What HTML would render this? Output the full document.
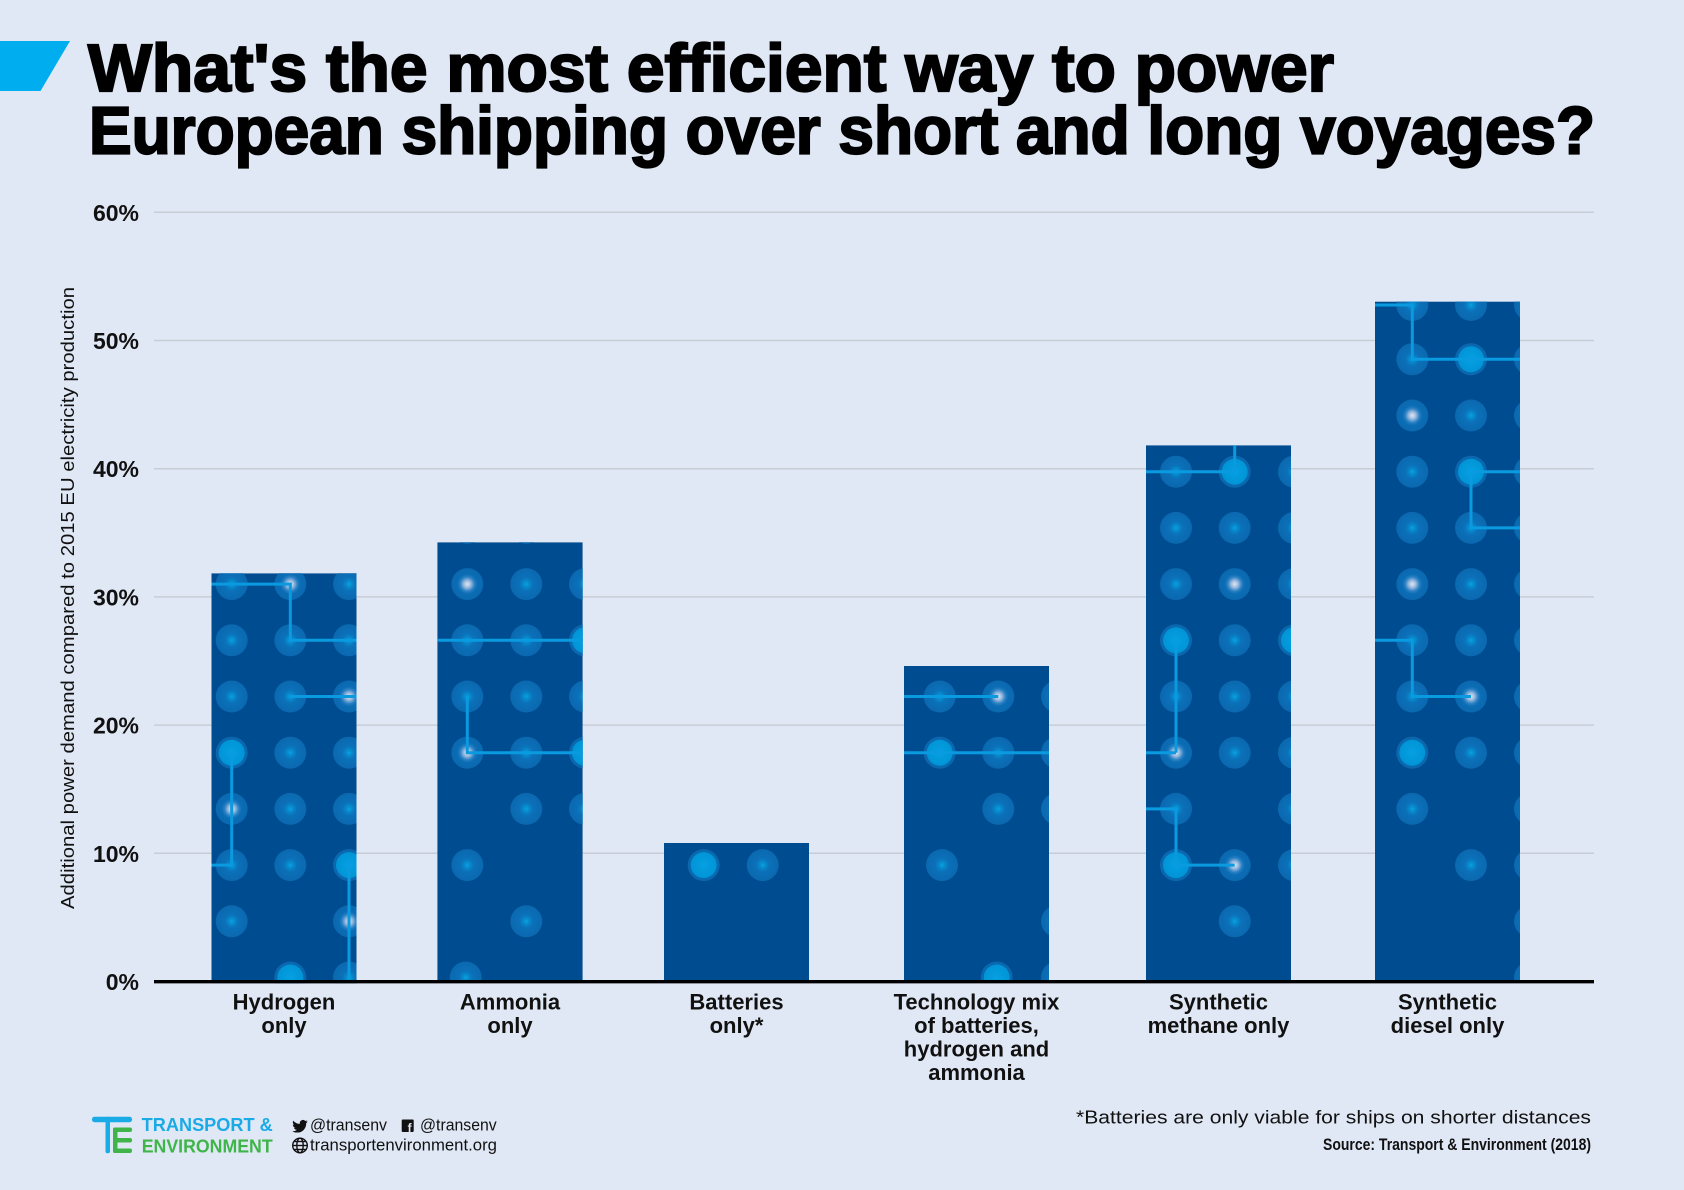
<!DOCTYPE html>
<html><head><meta charset="utf-8"><style>
html,body{margin:0;padding:0;background:#e1e8f5;}
svg{display:block;}
text{font-family:"Liberation Sans",Arial,sans-serif;}
</style></head><body>
<svg width="1684" height="1190" viewBox="0 0 1684 1190" xmlns="http://www.w3.org/2000/svg">
<defs>
<radialGradient id="gn"><stop offset="0" stop-color="#0aa2e2"/><stop offset="0.18" stop-color="#078acd"/><stop offset="0.42" stop-color="#0b71b9"/><stop offset="1" stop-color="#0b68af"/></radialGradient>
<radialGradient id="gh"><stop offset="0" stop-color="#dfe6f2"/><stop offset="0.22" stop-color="#9dbbdf"/><stop offset="0.45" stop-color="#2a80c3"/><stop offset="0.62" stop-color="#0b6db5"/><stop offset="1" stop-color="#0b68af"/></radialGradient>
<radialGradient id="gb"><stop offset="0" stop-color="#06a0e2"/><stop offset="1" stop-color="#0094d6"/></radialGradient>
<g id="dn"><circle r="16" fill="url(#gn)"/></g>
<g id="dh"><circle r="16" fill="url(#gh)"/></g>
<g id="db"><circle r="16" fill="#0b68af"/><circle r="13" fill="url(#gb)"/></g>
<clipPath id="c1"><rect x="211.5" y="573.3" width="145" height="410"/></clipPath>
<clipPath id="c2"><rect x="437.3" y="542.3" width="145.4" height="440"/></clipPath>
<clipPath id="c3"><rect x="664" y="843" width="145" height="140"/></clipPath>
<clipPath id="c4"><rect x="904" y="666" width="145" height="316"/></clipPath>
<clipPath id="c5"><rect x="1146" y="445.3" width="145" height="537"/></clipPath>
<clipPath id="c6"><rect x="1375" y="301.6" width="145" height="681"/></clipPath>
</defs>

<rect x="0" y="0" width="1684" height="1190" fill="#e1e8f5"/>

<!-- title -->
<polygon points="0,41 70,41 40.5,91 0,91" fill="#00aeef"/>
<text x="88" y="91" font-size="67" font-weight="bold" fill="#000" stroke="#000" stroke-width="2.2" textLength="1246" lengthAdjust="spacingAndGlyphs">What's the most efficient way to power</text>
<text x="89" y="153.5" font-size="67" font-weight="bold" fill="#000" stroke="#000" stroke-width="2.2" textLength="1506" lengthAdjust="spacingAndGlyphs">European shipping over short and long voyages?</text>

<!-- grid -->
<g stroke="#c8cdd5" stroke-width="1.5">
<line x1="154" x2="1594" y1="212.3" y2="212.3"/>
<line x1="154" x2="1594" y1="340.5" y2="340.5"/>
<line x1="154" x2="1594" y1="468.7" y2="468.7"/>
<line x1="154" x2="1594" y1="596.9" y2="596.9"/>
<line x1="154" x2="1594" y1="725.1" y2="725.1"/>
<line x1="154" x2="1594" y1="853.3" y2="853.3"/>
</g>

<!-- tick labels -->
<g font-size="23" font-weight="bold" fill="#111" text-anchor="end">
<text x="139" y="220.8">60%</text>
<text x="139" y="349">50%</text>
<text x="139" y="477.2">40%</text>
<text x="139" y="605.4">30%</text>
<text x="139" y="733.6">20%</text>
<text x="139" y="861.8">10%</text>
<text x="139" y="990">0%</text>
</g>

<!-- y axis title -->
<text transform="translate(74,598) rotate(-90)" text-anchor="middle" font-size="18.5" fill="#111" textLength="622" lengthAdjust="spacingAndGlyphs">Additional power demand compared to 2015 EU electricity production</text>

<!-- bar 1 Hydrogen -->
<g clip-path="url(#c1)">
<rect x="211.5" y="573.3" width="145" height="410" fill="#004c90"/>
<use href="#dn" x="231.7" y="584.1"/><use href="#dh" x="290.3" y="584.1"/><use href="#dn" x="349" y="584.1"/>
<use href="#dn" x="231.7" y="640.3"/><use href="#dn" x="290.3" y="640.3"/><use href="#dn" x="349" y="640.3"/>
<use href="#dn" x="231.7" y="696.5"/><use href="#dn" x="290.3" y="696.5"/><use href="#dh" x="349" y="696.5"/>
<use href="#db" x="231.7" y="752.7"/><use href="#dn" x="290.3" y="752.7"/><use href="#dn" x="349" y="752.7"/>
<use href="#dh" x="231.7" y="808.9"/><use href="#dn" x="290.3" y="808.9"/><use href="#dn" x="349" y="808.9"/>
<use href="#dn" x="231.7" y="865.1"/><use href="#dn" x="290.3" y="865.1"/><use href="#db" x="349" y="865.1"/>
<use href="#dn" x="231.7" y="921.3"/><use href="#dh" x="349" y="921.3"/>
<use href="#db" x="290.3" y="977.5"/><use href="#dn" x="349" y="977.5"/>
<path d="M211 584.1 H290.3 V640.3 H357 M290.3 696.5 H357 M231.7 752.7 V865.1 M211 865.1 H231.7 M349 865.1 V981" fill="none" stroke="#0a9ae0" stroke-width="3"/>
</g>

<!-- bar 2 Ammonia -->
<g clip-path="url(#c2)">
<rect x="437.3" y="542.3" width="145.4" height="440" fill="#004c90"/>
<use href="#dn" x="467.3" y="527.9"/><use href="#dn" x="526.3" y="527.9"/>
<use href="#dh" x="467.3" y="584.1"/><use href="#dn" x="526.3" y="584.1"/><use href="#dn" x="585" y="584.1"/>
<use href="#dn" x="467.3" y="640.3"/><use href="#dn" x="526.3" y="640.3"/><use href="#db" x="585" y="640.3"/>
<use href="#dn" x="467.3" y="696.5"/><use href="#dn" x="526.3" y="696.5"/><use href="#dn" x="585" y="696.5"/>
<use href="#dh" x="467.3" y="752.7"/><use href="#dn" x="526.3" y="752.7"/><use href="#db" x="585" y="752.7"/>
<use href="#dn" x="526.3" y="808.9"/><use href="#dn" x="585" y="808.9"/>
<use href="#dn" x="467.3" y="865.1"/>
<use href="#dn" x="526.3" y="921.3"/>
<use href="#dn" x="465.7" y="977.5"/>
<path d="M437 640.3 H583 M467.3 696.5 V752.7 H583" fill="none" stroke="#0a9ae0" stroke-width="3"/>
</g>

<!-- bar 3 Batteries -->
<g clip-path="url(#c3)">
<rect x="664" y="843" width="145" height="140" fill="#004c90"/>
<use href="#db" x="703.7" y="865.1"/><use href="#dn" x="762.7" y="865.1"/>
</g>

<!-- bar 4 Technology mix -->
<g clip-path="url(#c4)">
<rect x="904" y="666" width="145" height="316" fill="#004c90"/>
<use href="#dn" x="939.7" y="696.5"/><use href="#dh" x="998.3" y="696.5"/><use href="#dn" x="1057" y="696.5"/>
<use href="#db" x="939.7" y="752.7"/><use href="#dn" x="998.3" y="752.7"/><use href="#dn" x="1057" y="752.7"/>
<use href="#dn" x="998.3" y="808.9"/><use href="#dn" x="1057" y="808.9"/>
<use href="#dn" x="942" y="865.1"/>
<use href="#dn" x="1057" y="921.3"/>
<use href="#db" x="996.7" y="977.5"/><use href="#dn" x="1057" y="977.5"/>
<path d="M904 696.5 H998.3 M904 752.7 H1049" fill="none" stroke="#0a9ae0" stroke-width="3"/>
</g>

<!-- bar 5 Synthetic methane -->
<g clip-path="url(#c5)">
<rect x="1146" y="445.3" width="145" height="537" fill="#004c90"/>
<use href="#dn" x="1176" y="471.7"/><use href="#db" x="1234.7" y="471.7"/><use href="#dn" x="1294" y="471.7"/>
<use href="#dn" x="1176" y="527.9"/><use href="#dn" x="1234.7" y="527.9"/><use href="#dn" x="1294" y="527.9"/>
<use href="#dn" x="1176" y="584.1"/><use href="#dh" x="1234.7" y="584.1"/><use href="#dn" x="1294" y="584.1"/>
<use href="#db" x="1176" y="640.3"/><use href="#dn" x="1234.7" y="640.3"/><use href="#db" x="1294" y="640.3"/>
<use href="#dn" x="1176" y="696.5"/><use href="#dn" x="1234.7" y="696.5"/><use href="#dn" x="1294" y="696.5"/>
<use href="#dh" x="1176" y="752.7"/><use href="#dn" x="1234.7" y="752.7"/><use href="#dn" x="1294" y="752.7"/>
<use href="#dn" x="1176" y="808.9"/><use href="#dn" x="1294" y="808.9"/>
<use href="#db" x="1176" y="865.1"/><use href="#dh" x="1234.7" y="865.1"/><use href="#dn" x="1294" y="865.1"/>
<use href="#dn" x="1234.7" y="921.3"/>
<path d="M1146 471.7 H1234.7 M1234.7 445 V471.7 M1176 640.3 V752.7 M1146 752.7 H1176 M1146 808.9 H1176 V865.1 H1234.7" fill="none" stroke="#0a9ae0" stroke-width="3"/>
</g>

<!-- bar 6 Synthetic diesel -->
<g clip-path="url(#c6)">
<rect x="1375" y="301.6" width="145" height="681" fill="#004c90"/>
<use href="#dn" x="1412.3" y="305"/><use href="#dn" x="1471" y="305"/><use href="#dn" x="1530" y="305"/>
<use href="#dn" x="1412.3" y="359.3"/><use href="#db" x="1471" y="359.3"/><use href="#dh" x="1530" y="359.3"/>
<use href="#dh" x="1412.3" y="415.5"/><use href="#dn" x="1471" y="415.5"/><use href="#dn" x="1530" y="415.5"/>
<use href="#dn" x="1412.3" y="471.7"/><use href="#db" x="1471" y="471.7"/><use href="#dn" x="1530" y="471.7"/>
<use href="#dn" x="1412.3" y="527.9"/><use href="#dn" x="1471" y="527.9"/><use href="#dn" x="1530" y="527.9"/>
<use href="#dh" x="1412.3" y="584.1"/><use href="#dn" x="1471" y="584.1"/><use href="#dn" x="1530" y="584.1"/>
<use href="#dn" x="1412.3" y="640.3"/><use href="#dn" x="1471" y="640.3"/><use href="#dn" x="1530" y="640.3"/>
<use href="#dn" x="1412.3" y="696.5"/><use href="#dh" x="1471" y="696.5"/><use href="#dn" x="1530" y="696.5"/>
<use href="#db" x="1412.3" y="752.7"/><use href="#dn" x="1471" y="752.7"/><use href="#dn" x="1530" y="752.7"/>
<use href="#dn" x="1412.3" y="808.9"/><use href="#dn" x="1530" y="808.9"/>
<use href="#dn" x="1471" y="865.1"/><use href="#dn" x="1530" y="865.1"/>
<use href="#dn" x="1530" y="921.3"/><use href="#dn" x="1530" y="977.5"/>
<path d="M1375 305 H1412.3 V359.3 H1520 M1471 471.7 H1520 M1471 471.7 V527.9 H1520 M1375 640.3 H1412.3 V696.5 H1471" fill="none" stroke="#0a9ae0" stroke-width="3"/>
</g>

<!-- x axis -->
<line x1="154" x2="1594" y1="981.7" y2="981.7" stroke="#000" stroke-width="3.4"/>

<!-- category labels -->
<g font-size="22" font-weight="bold" fill="#111" text-anchor="middle">
<text x="284" y="1009.3">Hydrogen</text><text x="284" y="1032.8">only</text>
<text x="510" y="1009.3">Ammonia</text><text x="510" y="1032.8">only</text>
<text x="736.5" y="1009.3">Batteries</text><text x="736.5" y="1032.8">only*</text>
<text x="976.5" y="1009.3">Technology mix</text><text x="976.5" y="1032.8">of batteries,</text><text x="976.5" y="1056.4">hydrogen and</text><text x="976.5" y="1080">ammonia</text>
<text x="1218.5" y="1009.3">Synthetic</text><text x="1218.5" y="1032.8">methane only</text>
<text x="1447.5" y="1009.3">Synthetic</text><text x="1447.5" y="1032.8">diesel only</text>
</g>

<!-- footer logo -->
<g>
<rect x="92" y="1116.7" width="40" height="5.5" rx="2.5" fill="#1aabe6"/>
<rect x="105.5" y="1116.7" width="4.5" height="36.5" rx="2" fill="#1aabe6"/>
<rect x="113" y="1127.5" width="4.5" height="25.5" rx="2" fill="#3fb549"/>
<rect x="113" y="1127.5" width="19" height="4.5" rx="2" fill="#3fb549"/>
<rect x="113" y="1138" width="19" height="4.5" rx="2" fill="#3fb549"/>
<rect x="113" y="1148.5" width="19" height="4.5" rx="2" fill="#3fb549"/>
</g>
<text x="141.7" y="1131" font-size="18" font-weight="bold" fill="#1aabe6" textLength="131" lengthAdjust="spacingAndGlyphs">TRANSPORT &amp;</text>
<text x="141.7" y="1152.3" font-size="18" font-weight="bold" fill="#3fb549" textLength="131" lengthAdjust="spacingAndGlyphs">ENVIRONMENT</text>

<svg x="292" y="1119.5" width="16" height="13" viewBox="0 1.5 24 20"><path fill="#111" d="M23.953 4.57a10 10 0 01-2.825.775 4.958 4.958 0 002.163-2.723c-.951.555-2.005.959-3.127 1.184a4.920 4.920 0 00-8.384 4.482C7.690 8.095 4.067 6.130 1.640 3.162a4.822 4.822 0 00-.666 2.475c0 1.710.870 3.213 2.188 4.096a4.904 4.904 0 01-2.228-.616v.060a4.923 4.923 0 003.946 4.827 4.996 4.996 0 01-2.212.085 4.936 4.936 0 004.604 3.417 9.867 9.867 0 01-6.102 2.105c-.390 0-.779-.023-1.170-.067a13.995 13.995 0 007.557 2.209c9.053 0 13.998-7.496 13.998-13.985 0-.210 0-.420-.015-.630A9.935 9.935 0 0024 4.590z"/></svg>
<text x="310" y="1130.7" font-size="16.5" fill="#111" textLength="77" lengthAdjust="spacingAndGlyphs">@transenv</text>
<rect x="401.7" y="1119.5" width="12" height="12.5" rx="1" fill="#111"/>
<text x="409.6" y="1132" font-size="12" font-weight="bold" fill="#e1e8f5" text-anchor="middle">f</text>
<text x="420" y="1130.7" font-size="16.5" fill="#111" textLength="76.7" lengthAdjust="spacingAndGlyphs">@transenv</text>
<g fill="none" stroke="#111" stroke-width="1.4">
<circle cx="300" cy="1145.5" r="7.3"/>
<ellipse cx="300" cy="1145.5" rx="3.2" ry="7.3"/>
<line x1="292.7" x2="307.3" y1="1145.5" y2="1145.5"/>
<line x1="294" x2="306" y1="1141.5" y2="1141.5"/>
<line x1="294" x2="306" y1="1149.5" y2="1149.5"/>
</g>
<text x="310" y="1150.7" font-size="16.5" fill="#111" textLength="187" lengthAdjust="spacingAndGlyphs">transportenvironment.org</text>

<!-- footer right -->
<text x="1591" y="1123.3" font-size="18.5" fill="#111" text-anchor="end" textLength="515" lengthAdjust="spacingAndGlyphs">*Batteries are only viable for ships on shorter distances</text>
<text x="1591" y="1150" font-size="16.5" font-weight="bold" fill="#111" text-anchor="end" textLength="268" lengthAdjust="spacingAndGlyphs">Source: Transport &amp; Environment (2018)</text>
</svg>
</body></html>
